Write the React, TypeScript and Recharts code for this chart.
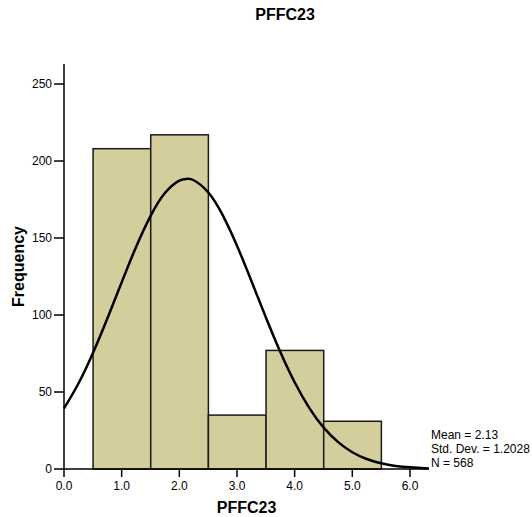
import React from 'react';
import { ComposedChart, Bar, Line, XAxis, YAxis } from 'recharts';

// histogram bins (bin width 1.0, centred on the integer values)
const binCenters = [1, 2, 3, 4, 5];
const binCounts = [208, 217, 35, 77, 31];

// fitted normal curve (Mean = 2.13, SD = 1.2028, N = 568)
const curveX = [0, 0.25, 0.5, 0.75, 1, 1.25, 1.5, 1.75, 2, 2.13, 2.25, 2.5, 2.75, 3, 3.25, 3.5, 3.75, 4, 4.25, 4.5, 4.75, 5, 5.25, 5.5, 5.75, 6, 6.33];
const curveY = [39.3, 55.5, 75.2, 97.6, 121.2, 144.2, 164.2, 179.2, 187.3, 188.4, 187.5, 179.7, 165.0, 145.0, 122.1, 98.5, 76.1, 56.3, 39.9, 27.0, 17.6, 10.9, 6.5, 3.7, 2.0, 1.1, 0.4];

const xTicks = [0, 1, 2, 3, 4, 5, 6];
const yTicks = [0, 50, 100, 150, 200, 250];
const statLines = ['Mean = 2.13', 'Std. Dev. = 1.2028', 'N = 568'];

const X_MAX = 6.33;
const Y_MAX = 263;
const BIN_WIDTH = 1;

const W = 532;
const H = 517;
const margin = { top: 64, right: 103, left: 0, bottom: 0 };
const Y_AXIS_W = 64;
const X_AXIS_H = 48;

const font = 'Arial, "Liberation Sans", sans-serif';

const chartData = curveX.map((x, i) => {
  const b = binCenters.indexOf(x);
  return { x, curve: curveY[i], count: b >= 0 ? binCounts[b] : undefined };
});

const plotW = W - margin.left - margin.right - Y_AXIS_W;
const binPx = (plotW / X_MAX) * BIN_WIDTH;

const tickStyle = { fill: '#000', fontSize: 12, fontFamily: font };

// recharts squeezes bars to the point spacing, so widen each one around its centre
const HistBar = (props: any) => {
  const { x, y, width, height } = props;
  if (height == null || height <= 0) return null;
  const cx = x + width / 2;
  return (
    <rect x={cx - binPx / 2} y={y} width={binPx} height={height} fill="#D3CE9B" stroke="#1a1a1a" strokeWidth={1.5} />
  );
};

const App: React.FC = () => {
  return (
    <div style={{ position: 'absolute', left: 0, top: 0, width: W, height: H, background: '#fff', fontFamily: font }}>
      <div
        style={{
          position: 'absolute',
          left: 285,
          top: 6,
          transform: 'translateX(-50%)',
          fontWeight: 'bold',
          fontSize: 16,
          whiteSpace: 'nowrap',
        }}
      >
        PFFC23
      </div>
      <ComposedChart width={W} height={H} data={chartData} margin={margin}>
        <XAxis
          dataKey="x"
          type="number"
          domain={[0, X_MAX]}
          ticks={xTicks}
          tickFormatter={(v) => Number(v).toFixed(1)}
          tick={tickStyle}
          tickSize={8}
          tickMargin={4}
          height={X_AXIS_H}
          interval={0}
          stroke="#000"
          axisLine={{ stroke: '#000', strokeWidth: 1.5 }}
          tickLine={{ stroke: '#000', strokeWidth: 1.5 }}
          label={{ value: 'PFFC23', position: 'insideBottom', offset: 4, fill: '#000', fontSize: 16, fontWeight: 'bold', fontFamily: font }}
        />
        <XAxis xAxisId="top" orientation="top" type="number" domain={[0, X_MAX]} height={0} tick={false} tickLine={false} axisLine={{ stroke: '#000', strokeWidth: 1.5 }} />
        <YAxis
          type="number"
          domain={[0, Y_MAX]}
          ticks={yTicks}
          tick={tickStyle}
          tickSize={10}
          width={Y_AXIS_W}
          interval={0}
          axisLine={{ stroke: '#000', strokeWidth: 1.5 }}
          tickLine={{ stroke: '#000', strokeWidth: 1.5 }}
          label={{ value: 'Frequency', angle: -90, position: 'center', dx: -14, fill: '#000', fontSize: 16, fontWeight: 'bold', fontFamily: font }}
        />
        <YAxis yAxisId="right" orientation="right" type="number" domain={[0, Y_MAX]} width={0} tick={false} tickLine={false} axisLine={{ stroke: '#000', strokeWidth: 1.5 }} />
        <Bar dataKey="count" shape={<HistBar />} isAnimationActive={false} />
        <Line dataKey="curve" type="natural" stroke="#000" strokeWidth={2.5} dot={false} activeDot={false} connectNulls isAnimationActive={false} />
      </ComposedChart>
      <div style={{ position: 'absolute', left: 431, top: 428, fontSize: 12, lineHeight: '14px', whiteSpace: 'nowrap' }}>
        {statLines.map((s) => (
          <div key={s}>{s}</div>
        ))}
      </div>
    </div>
  );
};

export default App;
